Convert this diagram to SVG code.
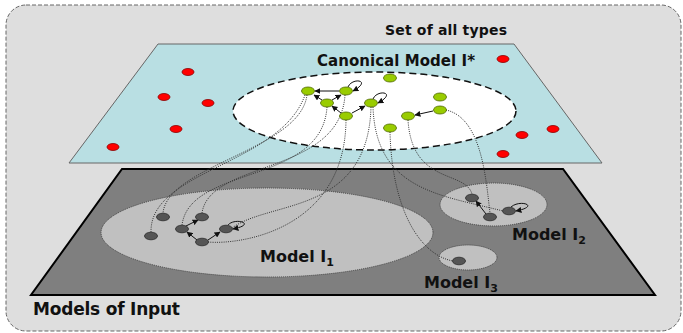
<svg xmlns="http://www.w3.org/2000/svg" width="683" height="333" viewBox="0 0 683 333">
<style>
.lbl{font-family:"DejaVu Sans","Liberation Sans",sans-serif;font-weight:bold;fill:#111}
.red{fill:#ff0000;stroke:#8a0000;stroke-width:0.8}
.grn{fill:#99cc00;stroke:#4d6600;stroke-width:0.8}
.drk{fill:#555;stroke:#2a2a2a;stroke-width:0.8}
.dot{fill:none;stroke:#333;stroke-width:1;stroke-dasharray:1 1.2}
.arr{fill:none;stroke:#111;stroke-width:1;marker-end:url(#ah)}
</style>
<defs>
<marker id="ah" viewBox="0 0 10 10" refX="9" refY="5" markerWidth="6" markerHeight="6" orient="auto" markerUnits="userSpaceOnUse">
<path d="M0,0 L10,5 L0,10 z" fill="#111"/>
</marker>
</defs>
<rect x="6" y="5" width="675" height="326" rx="20" fill="#dedede" stroke="#666" stroke-width="1" stroke-dasharray="4 2"/>
<text class="lbl" x="385" y="35" font-size="14" textLength="122">Set of all types</text>

<g id="upper-plane">
<polygon points="158,44 514,44 602,163 69,163" fill="#b9dfe3" stroke="#666" stroke-width="1"/>
<ellipse cx="374.5" cy="111" rx="141.5" ry="39" fill="#fff" stroke="#111" stroke-width="1.5" stroke-dasharray="7 4"/>
<text class="lbl" x="317" y="66" font-size="15" textLength="158">Canonical Model I*</text>
</g>

<g id="lower-plane">
<polygon points="122,169 563,169 655,295 31,295" fill="#7f7f7f" stroke="#000" stroke-width="2"/>
<text class="lbl" x="33" y="315" font-size="17" textLength="147">Models of Input</text>
</g>

<g id="model-I1">
<ellipse cx="267" cy="232.5" rx="166" ry="44.5" fill="#c0c0c0" stroke="#444" stroke-width="1" stroke-dasharray="1 1"/>
<text class="lbl" x="260" y="262" font-size="16">Model I<tspan font-size="11" dy="4">1</tspan></text>
</g>
<g id="model-I2">
<ellipse cx="493.5" cy="204.5" rx="53.5" ry="21.5" fill="#c0c0c0" stroke="#444" stroke-width="1" stroke-dasharray="1 1"/>
<text class="lbl" x="512" y="240" font-size="16">Model I<tspan font-size="11" dy="4">2</tspan></text>
</g>
<g id="model-I3">
<ellipse cx="468" cy="257.5" rx="29" ry="12.5" fill="#c0c0c0" stroke="#444" stroke-width="1" stroke-dasharray="1 1"/>
<text class="lbl" x="424" y="288" font-size="16">Model I<tspan font-size="11" dy="4">3</tspan></text>
</g>

<g id="red-nodes">
<ellipse class="red" cx="188" cy="72" rx="6" ry="3.5"/>
<ellipse class="red" cx="164" cy="97" rx="6" ry="3.5"/>
<ellipse class="red" cx="208" cy="103" rx="6" ry="3.5"/>
<ellipse class="red" cx="176" cy="129" rx="6" ry="3.5"/>
<ellipse class="red" cx="113" cy="147" rx="6" ry="3.5"/>
<ellipse class="red" cx="503" cy="59" rx="6" ry="3.5"/>
<ellipse class="red" cx="553" cy="129" rx="6" ry="3.5"/>
<ellipse class="red" cx="522" cy="135" rx="6" ry="3.5"/>
<ellipse class="red" cx="503" cy="154" rx="6" ry="3.5"/>
</g>

<g id="connectors">
<path class="dot" d="M307,95 C300,150 168,165 163,213"/>
<path class="dot" d="M305,95 C280,165 150,170 151,232"/>
<path class="dot" d="M345,95 C340,175 210,160 202,213"/>
<path class="dot" d="M327,107 C322,185 190,165 182,225"/>
<path class="dot" d="M346,120 C345,230 240,245 208,242"/>
<path class="dot" d="M371,107 C368,215 270,200 232,228"/>
<path class="dot" d="M373,107 C376,190 440,195 503,211"/>
<path class="dot" d="M390,132 C392,210 420,255 453,261"/>
<path class="dot" d="M408,120 C412,185 465,170 472,194"/>
<path class="dot" d="M446,110 C482,118 486,180 490,213"/>
<path class="arr" d="M339,91 L315,91"/>
<path class="arr" d="M322,100 L314,95"/>
<path class="arr" d="M332,100 L341,95"/>
<path class="arr" d="M341,113 L332,106"/>
<path class="arr" d="M352,113 L365,106"/>
<path class="arr" d="M433,111 L415,115"/>
<path class="arr" d="M348,87 C352,77 373,80 353,91"/>
<path class="arr" d="M373,99 C377,89 398,92 378,103"/>
<path class="arr" d="M186,226 L198,220"/>
<path class="arr" d="M197,240 L187,232"/>
<path class="arr" d="M208,240 L220,232"/>
<path class="arr" d="M228,225 C235,217 258,224 233,229"/>
<path class="arr" d="M486,214 L476,201"/>
<path class="arr" d="M511,207 C520,199 541,206 516,211"/>
</g>

<g id="green-nodes">
<ellipse id="gA" class="grn" cx="308" cy="91" rx="6.5" ry="4"/>
<ellipse id="gB" class="grn" cx="346" cy="91" rx="6.5" ry="4"/>
<ellipse id="gC" class="grn" cx="327" cy="103" rx="6.5" ry="4"/>
<ellipse id="gD" class="grn" cx="346" cy="116" rx="6.5" ry="4"/>
<ellipse id="gE" class="grn" cx="371" cy="103" rx="6.5" ry="4"/>
<ellipse id="gF" class="grn" cx="390" cy="78" rx="6.5" ry="4"/>
<ellipse id="gG" class="grn" cx="390" cy="128" rx="6.5" ry="4"/>
<ellipse id="gH" class="grn" cx="408" cy="116" rx="6.5" ry="4"/>
<ellipse id="gI" class="grn" cx="440" cy="97" rx="6.5" ry="4"/>
<ellipse id="gJ" class="grn" cx="440" cy="110" rx="6.5" ry="4"/>
</g>

<g id="input-nodes">
<ellipse id="na" class="drk" cx="163" cy="217" rx="6.5" ry="3.8"/>
<ellipse id="nb" class="drk" cx="202" cy="217" rx="6.5" ry="3.8"/>
<ellipse id="nc" class="drk" cx="151" cy="236" rx="6.5" ry="3.8"/>
<ellipse id="nd" class="drk" cx="182" cy="229" rx="6.5" ry="3.8"/>
<ellipse id="ne" class="drk" cx="202" cy="242" rx="6.5" ry="3.8"/>
<ellipse id="nf" class="drk" cx="226" cy="229" rx="6.5" ry="3.8"/>
<ellipse id="ng" class="drk" cx="472" cy="198" rx="6.5" ry="3.8"/>
<ellipse id="nh" class="drk" cx="490" cy="217" rx="6.5" ry="3.8"/>
<ellipse id="ni" class="drk" cx="509" cy="211" rx="6.5" ry="3.8"/>
<ellipse id="nj" class="drk" cx="459" cy="261" rx="6.5" ry="3.8"/>
</g>
</svg>
